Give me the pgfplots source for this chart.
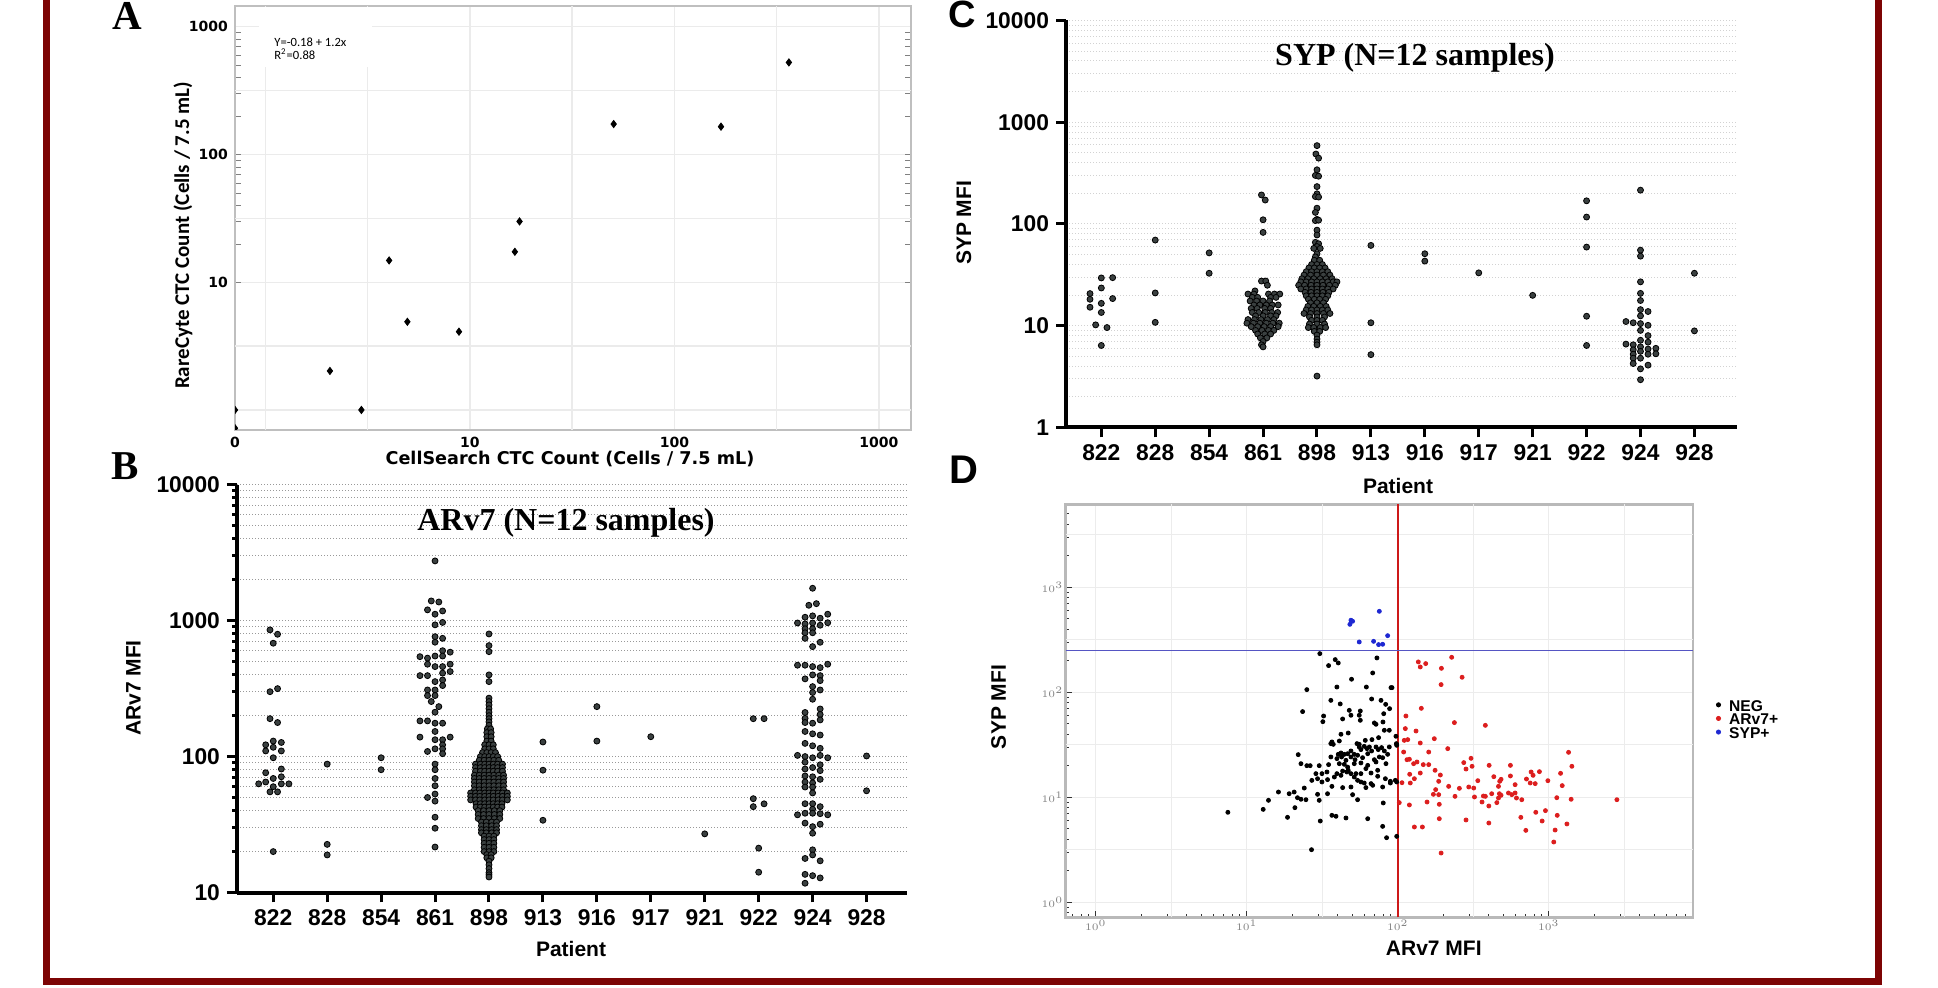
\documentclass[border=0pt]{standalone}
\usepackage{fontspec}
\setmainfont{Liberation Sans}
\newfontfamily\timesf{Liberation Serif}
\newfontfamily\dejavu{DejaVu Sans}
\newfontfamily\carlito{Carlito}
\usepackage{pgfplots}
\pgfplotsset{compat=1.18}
\definecolor{dotgray}{RGB}{58,64,64}
\definecolor{framered}{RGB}{125,4,4}
\definecolor{arc}{RGB}{220,30,30}
\definecolor{sypc}{RGB}{30,40,210}
\definecolor{redline}{RGB}{205,25,25}
\definecolor{blueline}{RGB}{85,85,195}
\pgfplotsset{
  swarm/.style={only marks, mark=*, mark size=1.5pt, mark options={draw=none, fill=dotgray}},
}
\begin{document}
\begin{tikzpicture}
\useasboundingbox (0,0) rectangle (969pt,-494pt);
\draw[framered, line width=3.5pt] (23.25pt,10pt) -- (23.25pt,-490.75pt) -- (939.25pt,-490.75pt) -- (939.25pt,10pt);

% ---------------- Panel A ----------------
\begin{axis}[
  at={(117.5pt,-215pt)}, anchor=south west, scale only axis, width=338pt, height=212pt,
  xmode=log, ymode=log, xmin=0.711, xmax=1435, ymin=0.697, ymax=1452,
  xtick={0.711,10,100,1000}, xticklabels={0,10,100,1000},
  ytick={10,100,1000}, yticklabels={10,100,1000},
  minor xtick={}, minor ytick={},
  major tick length=0pt,
  axis line style={gray!50, line width=0.6pt},
  grid=major, grid style={gray!16, line width=0.7pt},
  extra x ticks={1,3.162,31.62,316.2}, extra x tick labels={},
  extra y ticks={1,3.162,31.62,316.2}, extra y tick labels={},
  extra tick style={grid=major, major tick length=0pt},
  ticklabel style={font=\dejavu\bfseries\fontsize{7}{8}\selectfont},
  clip marker paths=true,
]
\addplot[only marks, mark=diamond*, mark size=1.8pt, black] coordinates {
(363,525) (50.5,173) (169,165) (17.5,29.9) (16.6,17.3) (4.03,14.8) (4.95,4.9) (8.85,4.1) (2.07,2.02) (2.95,1.0) (0.711,1.0) (0.711,0.72)};
\end{axis}
\fill[white] (129.5pt,-3.6pt) rectangle (186pt,-33.5pt);
\node[anchor=west, font=\carlito\fontsize{6.3}{7}\selectfont, inner sep=0pt] at (137pt,-20.9pt) {Y=-0.18 + 1.2x};
\node[anchor=west, font=\carlito\fontsize{6.3}{7}\selectfont, inner sep=0pt] at (137pt,-27pt) {R\textsuperscript{2}=0.88};
\node[font=\dejavu\bfseries\fontsize{8.8}{9}\selectfont] at (285pt,-229.3pt) {CellSearch CTC Count (Cells / 7.5 mL)};
\node[rotate=90, font=\carlito\bfseries\fontsize{10.5}{11}\selectfont] at (91.5pt,-117.75pt) {RareCyte CTC Count (Cells / 7.5 mL)};

% ---------------- Panel B ----------------
\begin{axis}[
  at={(118.5pt,-446.25pt)}, anchor=south west, scale only axis, width=335pt, height=203.9pt,
  xmin=-0.672, xmax=11.75, ymode=log, ymin=10, ymax=10000,
  axis lines*=left, axis line style={line width=2pt},
  xtick={0,1,2,3,4,5,6,7,8,9,10,11},
  xticklabels={822,828,854,861,898,913,916,917,921,922,924,928},
  ytick={10,100,1000,10000}, yticklabels={10,100,1000,10000},
  minor ytick={20,30,40,50,60,70,80,90,200,300,400,500,600,700,800,900,2000,3000,4000,5000,6000,7000,8000,9000},
  tick align=outside, major tick length=5pt, minor tick length=2.5pt,
  tick style={black, line width=1.5pt},
  ymajorgrids, yminorgrids,
  major grid style={gray!80, line width=0.5pt, dash pattern=on 0.5pt off 1pt},
  minor grid style={gray!80, line width=0.5pt, dash pattern=on 0.5pt off 1pt},
  ticklabel style={font=\bfseries\fontsize{11.4}{13}\selectfont},
  clip=false,
]
\addplot[swarm] coordinates {
(-0.06,855) (0.08,794) (0,682) (-0.06,300) (0.08,316) (-0.06,190) (0.08,178) (-0.14,122) (0,130) (0.15,127) (-0.14,110) (0,117) (0.15,110) (0,98) (0.15,81) (-0.14,76) (0,69) (0.15,71) (-0.27,63) (-0.14,65) (0,60) (0.15,63) (0.29,63) (-0.06,55) (0.08,55) (0,20)
(1,88) (1,22.6) (1,18.9)
(2,98) (2,80)
(3,2750) (2.93,1396) (3.07,1371) (2.86,1200) (3.14,1178) (3,1115) (3.14,970) (3,931) (3,762) (3.14,741) (3,694) (3.14,601) (3.28,586) (2.72,543) (2.86,530) (3,549) (3.14,549) (2.86,478) (3,459) (3.14,459) (3.28,478) (3.28,422) (3.14,411) (2.72,394) (2.86,394) (3,356) (3.14,366) (2.86,309) (3,309) (3.14,333) (2.86,281) (3,281) (2.93,254) (3.07,233) (3,212) (2.72,183) (2.86,183) (3,176) (3.14,176) (3,153) (2.72,139) (3,133) (3.14,133) (3.28,139) (3.14,122) (2.86,109) (3,114) (3.14,114) (3.14,105) (3,88) (3,80) (3,69) (3,61) (3,53) (2.86,50) (3,47) (3,35.8) (3,29.7) (3,21.6)
(5,128) (5,79.4) (5,34)
(6,233) (6,130)
(7,140)
(8,27)
(8.9,190) (9.1,190) (8.9,49) (8.9,42.8) (9.1,44.9) (9,21.2) (9,14.1)
(10,1730) (9.93,1297) (10.07,1333) (9.86,1059) (10,1084) (10.14,1042) (10.28,1115) (9.72,961) (9.86,946) (10,961) (10.14,925) (10.28,965) (9.86,871) (10,871) (9.86,814) (10,814) (9.86,741) (10,644) (10.14,693) (9.72,470) (9.86,470) (10,459) (10.14,451) (10.28,478) (10,399) (10.14,394) (9.86,373) (10.14,362) (10,327) (10,296) (10.14,309) (10,264) (9.86,211) (10.14,224) (9.86,191) (10.14,204) (9.86,178) (10,176) (10.14,186) (9.86,153) (10,147) (10.14,144) (9.86,125) (10,120) (10.14,115) (9.72,102) (9.86,100) (10,98) (10.14,102) (10.28,98) (9.86,91) (10,83) (10.14,87) (9.86,81) (10.14,78.8) (9.86,72) (10,71) (10.14,68) (9.86,65) (10,64) (9.86,59.7) (10,59.7) (10,54) (9.86,45) (10,45) (10.14,42.8) (10,41) (9.72,37.3) (9.86,38.3) (10,38.3) (10.14,38) (10.28,37.3) (9.86,32.4) (10,30.5) (10.14,31.8) (10,27.3) (9.86,17.8) (10,20.6) (10,18.9) (10.14,17.1) (9.86,11.7) (9.86,13.6) (10,13.3) (10.14,12.8)
(11,101) (11,56)
};
\addplot[swarm] coordinates {
(4,798) (4,655) (4,591) (4,399) (4,356) (4,269) (4,254) (4,240) (4,225) (4,212) (4,200) (4,190)
(4,180) (4,170) (3.97,160) (4.03,160)
(3.96,150) (4.04,150) (3.96,140) (4.04,140) (3.96,130) (4.04,130)
(3.92,122) (4,122) (4.08,122) (3.92,114) (4,114) (4.08,114) (3.88,107) (3.96,107) (4.04,107) (4.12,107)
(3.84,100) (3.92,100) (4,100) (4.08,100) (4.16,100) (3.82,94) (3.91,94) (4,94) (4.09,94) (4.18,94)
(3.75,88) (3.84,88) (3.92,88) (4,88) (4.08,88) (4.16,88) (4.25,88)
(3.75,83) (3.84,83) (3.92,83) (4,83) (4.08,83) (4.16,83) (4.25,83)
(3.75,78) (3.84,78) (3.92,78) (4,78) (4.08,78) (4.16,78) (4.25,78)
(3.73,73) (3.82,73) (3.91,73) (4,73) (4.09,73) (4.18,73) (4.27,73)
(3.73,69) (3.82,69) (3.91,69) (4,69) (4.09,69) (4.18,69) (4.27,69)
(3.73,65) (3.82,65) (3.91,65) (4,65) (4.09,65) (4.18,65) (4.27,65)
(3.73,61) (3.82,61) (3.91,61) (4,61) (4.09,61) (4.18,61) (4.27,61)
(3.73,57) (3.82,57) (3.91,57) (4,57) (4.09,57) (4.18,57) (4.27,57)
(3.66,54) (3.75,54) (3.83,54) (3.92,54) (4,54) (4.08,54) (4.17,54) (4.25,54) (4.34,54)
(3.66,51) (3.75,51) (3.83,51) (3.92,51) (4,51) (4.08,51) (4.17,51) (4.25,51) (4.34,51)
(3.66,48) (3.75,48) (3.83,48) (3.92,48) (4,48) (4.08,48) (4.17,48) (4.25,48) (4.34,48)
(3.76,45) (3.84,45) (3.92,45) (4,45) (4.08,45) (4.16,45) (4.24,45)
(3.76,42.5) (3.84,42.5) (3.92,42.5) (4,42.5) (4.08,42.5) (4.16,42.5) (4.24,42.5)
(3.8,40) (3.9,40) (4,40) (4.1,40) (4.2,40)
(3.8,37.5) (3.9,37.5) (4,37.5) (4.1,37.5) (4.2,37.5)
(3.8,35) (3.9,35) (4,35) (4.1,35) (4.2,35)
(3.86,33) (3.95,33) (4.05,33) (4.14,33) (3.86,31) (3.95,31) (4.05,31) (4.14,31)
(3.86,29) (3.95,29) (4.05,29) (4.14,29) (3.86,27.5) (3.95,27.5) (4.05,27.5) (4.14,27.5)
(3.91,26) (4,26) (4.09,26) (3.91,24.5) (4,24.5) (4.09,24.5) (3.91,23) (4,23) (4.09,23)
(3.91,21.5) (4,21.5) (4.09,21.5) (3.91,20) (4,20) (4.09,20)
(3.96,19) (4.04,19) (3.96,18) (4.04,18)
(4,17) (4,16) (4,15) (4,14) (4,13.5) (4,13)
};
\end{axis}
\node[font=\timesf\bfseries\fontsize{16}{16}\selectfont] at (283pt,-261.5pt) {ARv7 (N=12 samples)};
\node[font=\bfseries\fontsize{10.5}{11}\selectfont] at (285.5pt,-474.5pt) {Patient};
\node[rotate=90, font=\bfseries\fontsize{10.5}{11}\selectfont] at (66.75pt,-344pt) {ARv7 MFI};

% ---------------- Panel C ----------------
\begin{axis}[
  at={(533pt,-213.75pt)}, anchor=south west, scale only axis, width=335.5pt, height=203.5pt,
  xmin=-0.655, xmax=11.79, ymode=log, ymin=1, ymax=10000,
  axis lines*=left, axis line style={line width=2pt},
  xtick={0,1,2,3,4,5,6,7,8,9,10,11},
  xticklabels={822,828,854,861,898,913,916,917,921,922,924,928},
  ytick={1,10,100,1000,10000}, yticklabels={1,10,100,1000,10000},
  minor ytick={2,3,4,5,6,7,8,9,20,30,40,50,60,70,80,90,200,300,400,500,600,700,800,900,2000,3000,4000,5000,6000,7000,8000,9000},
  tick align=outside, major tick length=5pt, minor tick length=0pt,
  tick style={black, line width=1.5pt},
  ymajorgrids, yminorgrids,
  major grid style={gray!35, line width=0.5pt, dash pattern=on 0.5pt off 1pt},
  minor grid style={gray!35, line width=0.5pt, dash pattern=on 0.5pt off 1pt},
  ticklabel style={font=\bfseries\fontsize{11.4}{13}\selectfont},
  clip=false,
]
\addplot[swarm] coordinates {
(0,29.5) (0.21,29.7) (0,23.5) (-0.21,20.7) (-0.21,18.2) (0.21,18.5) (0,16.6) (-0.21,15.2) (0,13.5) (-0.105,10.2) (0.105,9.6) (0,6.4)
(1,69.5) (1,21) (1,10.8)
(2,52) (2,32.8)
(2.97,193) (3.04,172) (3,110) (3,82.7)
(2.97,27.5) (3.05,27.5) (3.08,25) (2.85,22)
(2.72,20.5) (2.83,20.5) (3.10,20.5) (3.21,20.5) (3.31,20.5)
(2.8,19) (2.9,19) (3.14,19) (3.24,19)
(2.76,17.5) (2.88,17.5) (3,17.5) (3.12,17.5)
(2.83,16) (2.94,16) (3.06,16) (3.17,16) (3.28,16)
(2.78,14.8) (2.89,14.8) (3.03,14.8) (3.14,14.8)
(2.8,13.5) (2.92,13.5) (3.04,13.5) (3.16,13.5) (3.27,13.5)
(2.86,12.5) (3,12.5) (3.14,12.5) (3.24,12.5)
(2.72,11.5) (2.84,11.5) (2.96,11.5) (3.08,11.5) (3.2,11.5)
(2.7,10.6) (2.82,10.6) (2.94,10.6) (3.06,10.6) (3.18,10.6) (3.3,10.6)
(2.78,9.8) (2.9,9.8) (3.02,9.8) (3.14,9.8) (3.28,9.8)
(2.86,9) (2.98,9) (3.1,9) (3.2,9)
(2.9,8.3) (3.03,8.3) (3.14,8.3)
(2.95,7.6) (3.07,7.6)
(3,7) (2.97,6.5) (3,6.2)
(5,61.6) (5,10.7) (5,5.2)
(6,51) (6,43.2)
(7,33.1)
(8,19.9)
(9,169) (9,117) (9,59.3) (9,12.4) (9,6.4)
(10,215) (10,55.3) (10,48.3) (10,27) (10,20.8) (10,17.7) (10,14.4) (10.14,13.8) (10,12.5) (9.73,11.0) (9.865,10.7) (10,10.5) (10.14,10.1) (10,9.0) (10.14,8.0) (10,7.2) (10.14,6.9) (9.73,6.6) (9.865,6.5) (9.865,5.8) (10,6.2) (10.14,5.9) (10.285,6.0) (9.865,5.25) (10,5.6) (10.14,5.25) (10.285,5.3) (9.865,4.8) (10,4.8) (9.865,4.25) (10.14,4.1) (10,3.77) (10,2.95)
(11,32.8) (11,8.9)
};
\addplot[swarm] coordinates {
(4,589) (3.98,487) (4.03,444) (4,341) (3.97,300) (4.03,295) (4,233) (4,198) (3.97,186) (4.03,184) (4,143) (3.97,130) (4,111) (3.97,108) (4.03,109) (4,87) (4,78) (3.97,66) (4.03,64) (4,60) (3.94,57.6) (4.06,57.6) (4,51) (3.97,47.5)
(3.95,44) (4.05,44)
(3.9,40) (4,40) (4.1,40)
(3.85,37) (3.95,37) (4.05,37) (4.15,37)
(3.8,34) (3.9,34) (4,34) (4.1,34) (4.2,34)
(3.76,31.5) (3.88,31.5) (4,31.5) (4.12,31.5) (4.24,31.5)
(3.72,29) (3.83,29) (3.94,29) (4.06,29) (4.17,29) (4.28,29)
(3.7,27) (3.8,27) (3.9,27) (4,27) (4.1,27) (4.2,27) (4.3,27) (4.37,27)
(3.66,25) (3.77,25) (3.89,25) (4,25) (4.11,25) (4.23,25) (4.34,25)
(3.7,23) (3.8,23) (3.9,23) (4,23) (4.1,23) (4.2,23) (4.3,23)
(3.78,21.3) (3.89,21.3) (4,21.3) (4.11,21.3) (4.22,21.3)
(3.8,19.7) (3.9,19.7) (4,19.7) (4.1,19.7) (4.2,19.7)
(3.84,18.2) (3.95,18.2) (4.05,18.2) (4.16,18.2)
(3.88,16.8) (4,16.8) (4.12,16.8)
(3.83,15.5) (3.94,15.5) (4.06,15.5) (4.17,15.5)
(3.8,14.3) (3.9,14.3) (4,14.3) (4.1,14.3) (4.2,14.3)
(3.76,13.2) (3.88,13.2) (4,13.2) (4.12,13.2) (4.24,13.2)
(3.86,12.2) (4,12.2) (4.14,12.2)
(3.9,11.3) (4,11.3) (4.1,11.3)
(3.86,10.4) (4,10.4) (4.14,10.4)
(3.84,9.6) (3.94,9.6) (4.06,9.6) (4.16,9.6)
(3.95,8.8) (4.05,8.8)
(4,8.1) (4,7.4) (4,6.9) (4,6.5) (4,3.2)
};
\end{axis}
\node[font=\timesf\bfseries\fontsize{16}{16}\selectfont] at (707.5pt,-29pt) {SYP (N=12 samples)};
\node[font=\bfseries\fontsize{10.5}{11}\selectfont] at (699pt,-242.85pt) {Patient};
\node[rotate=90, font=\bfseries\fontsize{10.5}{11}\selectfont] at (482pt,-111.5pt) {SYP MFI};

% ---------------- Panel D ----------------
\begin{axis}[
  at={(532.75pt,-458.65pt)}, anchor=south west, scale only axis, width=313.75pt, height=206.5pt,
  xmin=-0.2, xmax=3.955, ymin=-0.143, ymax=3.79,
  axis line style={gray!55, line width=1.2pt},
  xtick={0,1,2,3}, xticklabels={$10^{0}$,$10^{1}$,$10^{2}$,$10^{3}$},
  ytick={0,1,2,3}, yticklabels={$10^{0}$,$10^{1}$,$10^{2}$,$10^{3}$},
  minor xtick={-0.155,-0.097,-0.046,0.301,0.477,0.602,0.699,0.778,0.845,0.903,0.954,1.301,1.477,1.602,1.699,1.778,1.845,1.903,1.954,2.301,2.477,2.602,2.699,2.778,2.845,2.903,2.954,3.301,3.477,3.602,3.699,3.778,3.845,3.903},
  minor ytick={-0.097,-0.046,0.301,0.477,0.602,0.699,0.778,0.845,0.903,0.954,1.301,1.477,1.602,1.699,1.778,1.845,1.903,1.954,2.301,2.477,2.602,2.699,2.778,2.845,2.903,2.954,3.301,3.477,3.602,3.699,3.778},
  tick align=inside, tick pos=left, major tick length=3.2pt, minor tick length=1.8pt,
  tick style={black!80, line width=0.4pt},
  grid=major, grid style={gray!15, line width=0.5pt},
  extra x ticks={0.5,1.5,2.5,3.5}, extra x tick labels={},
  extra y ticks={0.5,1.5,2.5,3.5}, extra y tick labels={},
  extra tick style={grid=major, major tick length=0pt},
  ticklabel style={font=\fontsize{3.5}{4}\selectfont, text=gray, inner sep=1pt},
  legend style={at={(1.036,0.476)}, anchor=west, draw=none, fill=none, inner sep=0pt,
    font=\bfseries\fontsize{7.8}{8}\selectfont, row sep=-1.3pt, nodes={inner sep=0.6pt},
    /tikz/every even column/.append style={column sep=2.5pt}},
  legend cell align=left,
  legend image code/.code={\fill (0.04cm,0.04cm) circle (1.05pt); \path (0.2cm,0cm);},
  clip=false,
]
\addplot[only marks, mark=*, mark size=1pt, color=black, mark options={draw=none, fill=black}] coordinates {
(0.875,0.857)
(1.484,2.368) (1.542,2.254) (1.586,2.311) (1.606,2.279) (1.862,2.327) (1.834,2.184) (1.694,2.124) (1.597,2.050) (1.398,2.025) (1.792,2.050) (1.955,2.044) (1.962,2.044)
(1.557,1.923) (1.619,1.889) (1.827,1.936) (1.889,1.923) (1.920,1.885) (1.946,1.844) (1.370,1.816) (1.679,1.828) (1.690,1.781) (1.752,1.822) (1.745,1.781) (1.509,1.774) (1.635,1.746) (1.907,1.796) (1.504,1.720) (1.752,1.733) (1.845,1.708) (1.856,1.695) (1.902,1.717) (1.911,1.638) (1.944,1.638)
(1.624,1.600) (1.672,1.612) (1.564,1.527) (1.573,1.504) (1.613,1.536) (1.873,1.568) (1.829,1.549) (1.785,1.542) (1.745,1.504) (1.730,1.511) (1.988,1.581) (1.991,1.511) (1.993,1.495)
(1.341,1.406) (1.359,1.320) (1.398,1.301) (1.420,1.301) (1.480,1.301) (1.542,1.311) (1.557,1.384) (1.606,1.409) (1.624,1.422) (1.646,1.409) (1.668,1.415) (1.690,1.441) (1.712,1.409) (1.745,1.479) (1.756,1.454) (1.778,1.485) (1.796,1.463) (1.812,1.479) (1.827,1.441) (1.856,1.479) (1.871,1.454) (1.893,1.473) (1.911,1.441) (1.933,1.409) (1.944,1.479) (1.557,1.511)
(1.597,1.368) (1.628,1.384) (1.657,1.352) (1.690,1.384) (1.717,1.358) (1.734,1.400) (1.767,1.377) (1.801,1.415) (1.845,1.358) (1.878,1.384) (1.922,1.320) (1.613,1.320) (1.646,1.314) (1.668,1.288) (1.712,1.320) (1.756,1.327) (1.801,1.304) (1.856,1.336) (1.900,1.377)
(1.458,1.225) (1.498,1.225) (1.531,1.241) (1.597,1.225) (1.635,1.250) (1.672,1.257) (1.690,1.225) (1.723,1.225) (1.756,1.225) (1.789,1.273) (1.823,1.231) (1.867,1.257) (1.431,1.161) (1.469,1.177) (1.498,1.146) (1.535,1.168) (1.580,1.193) (1.624,1.209) (1.663,1.241) (1.712,1.193) (1.734,1.161) (1.756,1.146) (1.778,1.136) (1.823,1.130) (1.867,1.200) (1.918,1.177) (1.951,1.136) (1.984,1.161) (1.993,1.146)
(1.381,1.088) (1.314,1.050) (1.281,1.034) (1.210,1.050) (1.144,0.971) (1.109,0.885) (1.270,0.809) (1.319,0.901) (1.336,0.996) (1.359,0.981) (1.392,0.977) (1.469,1.028) (1.480,0.971) (1.535,1.034) (1.564,1.104) (1.635,1.092) (1.690,1.098) (1.701,1.025) (1.734,0.977) (1.789,1.092) (1.834,1.114) (1.900,1.098) (1.951,1.152) (1.904,0.946)
(1.487,0.774) (1.564,0.828) (1.591,0.819) (1.657,0.803) (1.801,0.796) (1.900,0.723) (1.926,0.615) (1.993,0.628) (1.429,0.501)
};
\addlegendentry{NEG}
\addplot[only marks, mark=*, mark size=1pt, color=arc, mark options={draw=none, fill=arc}] coordinates {
(2.136,2.289) (2.149,2.241) (2.185,2.273) (2.357,2.333) (2.289,2.228) (2.426,2.143) (2.287,2.073) (2.156,1.847) (2.054,1.774) (2.375,1.711) (2.050,1.654) (2.121,1.631) (2.580,1.685)
(2.043,1.542) (2.066,1.549) (2.149,1.517) (2.242,1.558) (2.331,1.463) (2.039,1.431) (2.205,1.431) (2.061,1.358) (2.077,1.362) (2.105,1.320) (2.127,1.336) (2.169,1.311) (2.205,1.311)
(2.437,1.330) (2.485,1.371) (2.492,1.295) (2.452,1.269) (2.247,1.257) (2.605,1.304) (2.746,1.304) (2.149,1.231) (2.079,1.219) (2.110,1.177) (2.282,1.212) (2.271,1.152) (2.530,1.158)
(2.636,1.196) (2.684,1.171) (2.675,1.152) (2.746,1.203) (2.777,1.120) (2.852,1.174) (2.883,1.241) (2.896,1.209) (2.938,1.244) (2.877,1.136) (2.910,1.130) (2.994,1.158) (3.078,1.228)
(3.089,1.111) (3.131,1.428) (3.153,1.295) (2.028,1.139) (2.083,1.136) (2.337,1.104) (2.408,1.085) (2.470,1.098) (2.503,1.088) (2.667,1.104) (2.251,1.073) (2.236,1.028) (2.271,1.025)
(2.379,1.009) (2.508,1.003) (2.567,1.012) (2.580,1.009) (2.622,1.034) (2.673,1.034) (2.684,1.019) (2.733,1.041) (2.755,1.025) (2.777,1.041) (2.786,0.993) (2.821,0.977) (2.667,0.993)
(2.010,0.949) (2.077,0.927) (2.194,0.955) (2.275,0.933) (2.558,0.955) (2.603,0.917) (2.656,0.949) (3.053,0.996) (3.148,0.981) (3.451,0.977) (2.914,0.857) (2.978,0.873) (3.056,0.828)
(2.815,0.809) (2.956,0.774) (3.120,0.746) (2.275,0.796) (2.452,0.784) (2.603,0.755) (2.110,0.717) (2.163,0.717) (2.848,0.685) (3.042,0.688) (3.033,0.574) (2.287,0.469)
};
\addlegendentry{ARv7+}
\addplot[only marks, mark=*, mark size=1pt, color=sypc, mark options={draw=none, fill=sypc}] coordinates {
(1.683,2.647) (1.690,2.686) (1.701,2.676) (1.878,2.771) (1.745,2.479) (1.840,2.485) (1.873,2.454) (1.900,2.457) (1.933,2.539)
};
\addlegendentry{SYP+}
\addplot[forget plot, redline, line width=0.9pt] coordinates {(2,-0.143) (2,3.79)};
\addplot[forget plot, blueline, line width=0.8pt] coordinates {(-0.2,2.397) (3.955,2.397)};
\end{axis}
\node[rotate=90, font=\bfseries\fontsize{10.5}{11}\selectfont] at (499.35pt,-353.5pt) {SYP MFI};
\node[font=\bfseries\fontsize{10.5}{11}\selectfont] at (716.9pt,-474pt) {ARv7 MFI};

% panel letters
\node[font=\timesf\bfseries\fontsize{20.5}{21}\selectfont, anchor=base] at (63.5pt,-15pt) {A};
\node[font=\timesf\bfseries\fontsize{20.5}{21}\selectfont, anchor=base] at (62.75pt,-240pt) {B};
\node[font=\bfseries\fontsize{19}{19}\selectfont, anchor=base] at (481.25pt,-13.6pt) {C};
\node[font=\bfseries\fontsize{20}{20}\selectfont, anchor=base] at (482pt,-242pt) {D};
\end{tikzpicture}
\end{document}
